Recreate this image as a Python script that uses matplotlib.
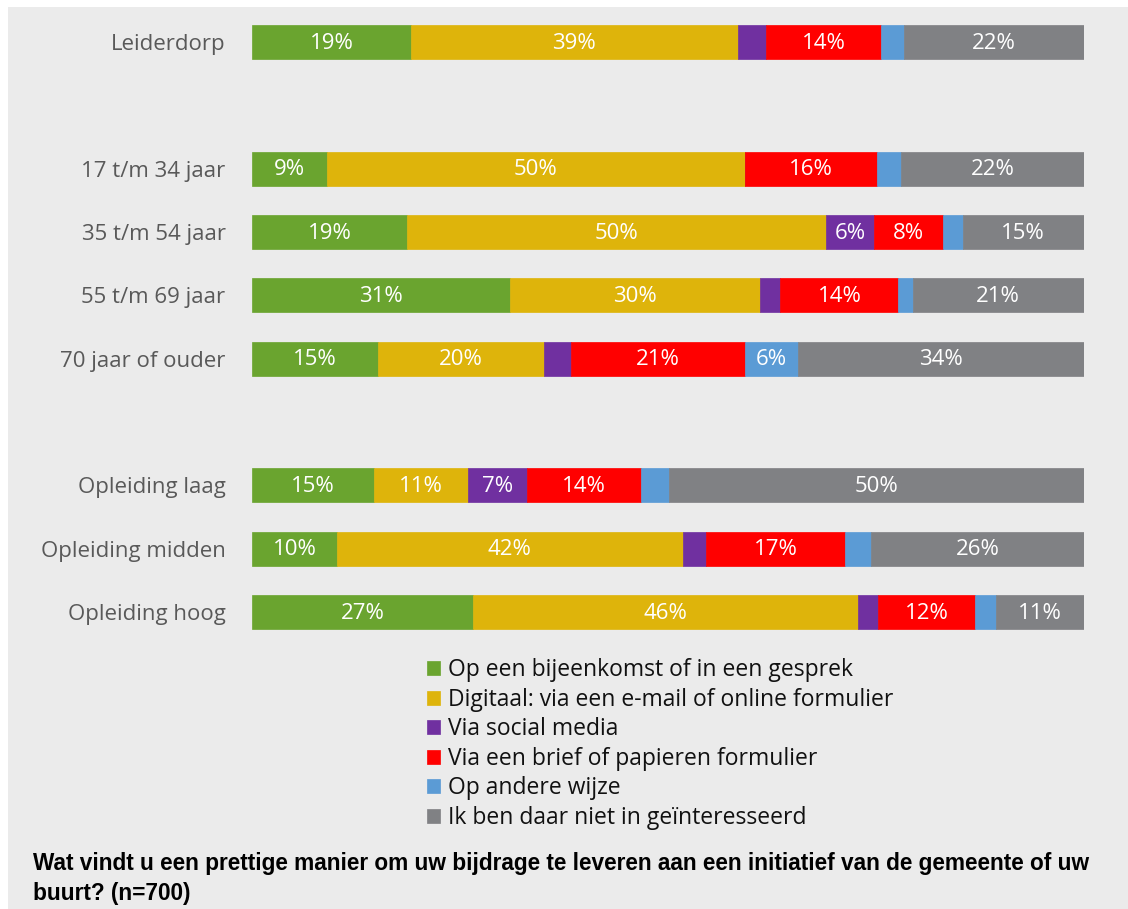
import matplotlib.pyplot as plt
from matplotlib.patches import Rectangle

categories = ['Leiderdorp', '17 t/m 34 jaar', '35 t/m 54 jaar', '55 t/m 69 jaar',
              '70 jaar of ouder', 'Opleiding laag', 'Opleiding midden', 'Opleiding hoog']
positions = [0, 2, 3, 4, 5, 7, 8, 9]

series_names = ['Op een bijeenkomst of in een gesprek',
                'Digitaal: via een e-mail of online formulier',
                'Via social media',
                'Via een brief of papieren formulier',
                'Op andere wijze',
                'Ik ben daar niet in geïnteresseerd']
colors = ['#6aa42f', '#deb40b', '#7030a0', '#ff0000', '#5b9bd5', '#808184']

# percentages per series, one value per category
bijeenkomst = [19.1, 9.0, 18.6, 31.0, 15.1, 14.7, 10.2, 26.6]
digitaal = [39.3, 50.2, 50.4, 30.0, 20.0, 11.3, 41.6, 46.2]
social = [3.4, 0.0, 5.8, 2.5, 3.3, 7.0, 2.8, 2.5]
brief = [13.8, 15.9, 8.3, 14.2, 20.8, 13.7, 16.7, 11.6]
anders = [2.8, 2.9, 2.3, 1.7, 6.4, 3.4, 3.1, 2.5]
niet = [21.6, 22.0, 14.6, 20.6, 34.4, 49.9, 25.6, 10.6]
values = [bijeenkomst, digitaal, social, brief, anders, niet]

W, H = 1128, 909
fig = plt.figure(figsize=(W / 100, H / 100), dpi=100)
fig.patch.set_facecolor('white')
fig.add_artist(Rectangle((8 / W, 0), 1, 1 - 7 / H, transform=fig.transFigure,
                         facecolor='#ebebeb', edgecolor='none', zorder=0))

font = ['Open Sans', 'DejaVu Sans']
ax = fig.add_axes([252 / W, 1 - 643.6 / H, (1084 - 252) / W, (643.6 - 10.4) / H])
ax.set_facecolor('none')

left = [0] * len(categories)
for name, vals, col in zip(series_names, values, colors):
    ax.barh(positions, vals, left=left, height=0.54, color=col, label=name,
            edgecolor=col, linewidth=0.5)
    for p, l, v in zip(positions, left, vals):
        if v >= 5:
            ax.text(l + v / 2, p + 0.02, f'{v:.0f}%', ha='center', va='center',
                    color='white', fontsize=16, family=font)
    left = [a + b for a, b in zip(left, vals)]

ax.set_xlim(0, 100)
ax.set_ylim(9.5, -0.5)
ax.set_yticks(positions)
ax.set_yticklabels(categories, fontsize=16, color='#595959', family=font)
ax.tick_params(axis='y', length=0, pad=19)
ax.set_xticks([])
for s in ax.spines.values():
    s.set_visible(False)

leg = fig.legend(loc='upper left', bbox_to_anchor=(416 / W, 1 - 647 / H),
                 frameon=False, prop={'family': font, 'size': 16.5},
                 handlelength=0.55, handleheight=0.55, handletextpad=0.35,
                 labelspacing=0.24, borderpad=0)
for t in leg.get_texts():
    t.set_color('#111111')

fig.text(33 / W, 1 - 852 / H,
         'Wat vindt u een prettige manier om uw bijdrage te leveren aan een initiatief van de gemeente of uw\nbuurt? (n=700)',
         ha='left', va='top', fontsize=16.3, fontweight='bold', color='black',
         family=['Liberation Sans', 'DejaVu Sans'], linespacing=1.4)

fig.savefig('out.png', dpi=100)
